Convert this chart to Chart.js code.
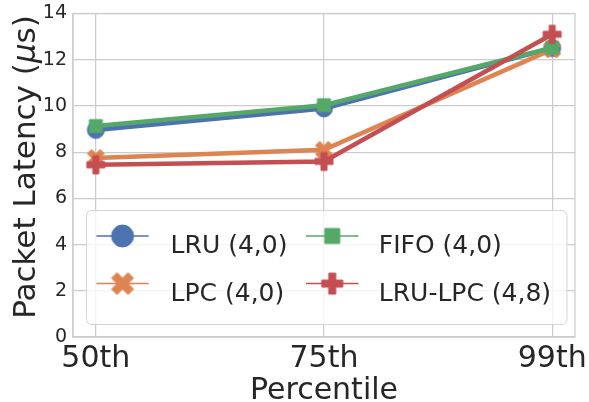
<!DOCTYPE html>
<html>
<head>
<meta charset="utf-8">
<script src="https://cdn.jsdelivr.net/npm/chart.js@4.4.1/dist/chart.umd.min.js"></script>
<style>
  html, body { margin: 0; padding: 0; background: #fff; }
  canvas { display: block; }
</style>
</head>
<body>
<canvas id="chart" width="589" height="402"></canvas>
<script>
// Packet latency (µs) per percentile for each replacement policy
const percentiles = ['50th', '75th', '99th'];
const lru    = [8.96, 9.89, 12.50];
const lpc    = [7.75, 8.10, 12.45];
const fifo   = [9.13, 10.03, 12.52];
const lruLpc = [7.45, 7.60, 13.10];
const yTicks = [0, 2, 4, 6, 8, 10, 12, 14];

const FONT = '"DejaVu Sans", "Liberation Sans", sans-serif';
const INK = '#262626';
const GRID = '#cccccc';

// Filled marker glyphs (circle, square, filled X, filled plus)
function marker(kind, size, color) {
  const n = Math.ceil(size + 4);
  const cv = document.createElement('canvas');
  cv.width = n; cv.height = n;
  const g = cv.getContext('2d');
  g.translate(n / 2, n / 2);
  g.fillStyle = color; g.strokeStyle = color; g.lineWidth = 1;
  g.beginPath();
  if (kind === 'circle') {
    g.arc(0, 0, size / 2, 0, Math.PI * 2);
  } else if (kind === 'square') {
    g.rect(-size / 2, -size / 2, size, size);
  } else {
    const pts = kind === 'plus'
      ? [[-1,-3],[-1,-1],[-3,-1],[-3,1],[-1,1],[-1,3],[1,3],[1,1],[3,1],[3,-1],[1,-1],[1,-3]].map(p => [p[0] / 6, p[1] / 6])
      : [[-1,-2],[0,-1],[1,-2],[2,-1],[1,0],[2,1],[1,2],[0,1],[-1,2],[-2,1],[-1,0],[-2,-1]].map(p => [p[0] / 4, p[1] / 4]);
    pts.forEach((p, i) => i ? g.lineTo(p[0] * size, p[1] * size) : g.moveTo(p[0] * size, p[1] * size));
    g.closePath();
  }
  g.fill(); g.stroke();
  return cv;
}

const series = [
  { label: 'LRU (4,0)',     values: lru,    color: '#4C72B0', kind: 'circle', size: 17, legendSize: 22 },
  { label: 'LPC (4,0)',     values: lpc,    color: '#DD8452', kind: 'x',      size: 17, legendSize: 22 },
  { label: 'FIFO (4,0)',    values: fifo,   color: '#55A868', kind: 'square', size: 13, legendSize: 15 },
  { label: 'LRU-LPC (4,8)', values: lruLpc, color: '#C44E52', kind: 'plus',   size: 18, legendSize: 21 },
];

// Frame around the plotting area
const framePlugin = {
  id: 'frame',
  beforeDatasetsDraw(chart) {
    const { ctx, chartArea: a } = chart;
    ctx.save();
    ctx.strokeStyle = GRID;
    ctx.lineWidth = 1.25;
    ctx.strokeRect(a.left, a.top, a.right - a.left, a.bottom - a.top);
    ctx.restore();
  }
};

// Axis titles (the y title carries an italic mu)
const titlePlugin = {
  id: 'axisTitles',
  afterDraw(chart) {
    const { ctx, chartArea: a } = chart;
    ctx.save();
    ctx.fillStyle = INK;
    ctx.textBaseline = 'alphabetic';
    // x title
    ctx.font = '30px ' + FONT;
    ctx.textAlign = 'center';
    ctx.fillText('Percentile', (a.left + a.right) / 2, 399);
    // y title, rotated
    const parts = [
      ['Packet Latency (', '31px ' + FONT],
      ['\u03BC', 'italic 31px ' + FONT],
      ['s)', '31px ' + FONT],
    ];
    let total = 0;
    const widths = parts.map(([t, f]) => { ctx.font = f; const w = ctx.measureText(t).width; total += w; return w; });
    ctx.translate(34.5, 167);
    ctx.rotate(-Math.PI / 2);
    ctx.textAlign = 'left';
    let x = -total / 2;
    parts.forEach(([t, f], i) => { ctx.font = f; ctx.fillText(t, x, 0); x += widths[i]; });
    ctx.restore();
  }
};

// Two-column legend box drawn over the plot
const legendPlugin = {
  id: 'boxLegend',
  afterDraw(chart) {
    const ctx = chart.ctx;
    ctx.save();
    const bx = 86.5, by = 210.5, bw = 480.5, bh = 114, r = 5;
    ctx.beginPath();
    ctx.moveTo(bx + r, by);
    ctx.arcTo(bx + bw, by, bx + bw, by + bh, r);
    ctx.arcTo(bx + bw, by + bh, bx, by + bh, r);
    ctx.arcTo(bx, by + bh, bx, by, r);
    ctx.arcTo(bx, by, bx + bw, by, r);
    ctx.closePath();
    ctx.fillStyle = 'rgba(255,255,255,0.8)';
    ctx.fill();
    ctx.strokeStyle = 'rgba(204,204,204,0.8)';
    ctx.lineWidth = 1;
    ctx.stroke();

    const cols = [{ h0: 96.4, h1: 148.7, tx: 170.6 }, { h0: 306, h1: 358.5, tx: 378.8 }];
    const rows = [{ my: 236, ty: 253 }, { my: 283.6, ty: 300.5 }];
    series.forEach((s, i) => {
      const c = cols[Math.floor(i / 2)], rw = rows[i % 2];
      ctx.strokeStyle = s.color;
      ctx.lineWidth = 1.5;
      ctx.beginPath();
      ctx.moveTo(c.h0, rw.my); ctx.lineTo(c.h1, rw.my);
      ctx.stroke();
      const m = marker(s.kind, s.legendSize, s.color);
      ctx.drawImage(m, (c.h0 + c.h1) / 2 - m.width / 2, rw.my - m.height / 2);
      ctx.fillStyle = INK;
      ctx.font = '25px ' + FONT;
      ctx.textAlign = 'left';
      ctx.textBaseline = 'alphabetic';
      ctx.fillText(s.label, c.tx, rw.ty);
    });
    ctx.restore();
  }
};

const drawOrder = { 'LRU (4,0)': 3, 'LPC (4,0)': 2, 'FIFO (4,0)': 1, 'LRU-LPC (4,8)': 0 };

new Chart(document.getElementById('chart'), {
  type: 'line',
  data: {
    datasets: series.map(s => ({
      label: s.label,
      data: s.values.map((v, i) => ({ x: i, y: v })),
      borderColor: s.color,
      backgroundColor: s.color,
      borderWidth: 4.5,
      pointStyle: marker(s.kind, s.size, s.color),
      pointRadius: 9,
      pointHoverRadius: 9,
      tension: 0,
      order: drawOrder[s.label],
      clip: false,
    }))
  },
  options: {
    responsive: false,
    animation: false,
    devicePixelRatio: 1,
    layout: { padding: { left: 0, right: 14, top: 11, bottom: 0 } },
    plugins: { legend: { display: false }, tooltip: { enabled: false } },
    scales: {
      x: {
        type: 'linear',
        min: -0.1,
        max: 2.1,
        afterBuildTicks: (scale) => { scale.ticks = percentiles.map((_, i) => ({ value: i })); },
        afterFit: (scale) => {
          scale.height = 65;
          scale.paddingLeft = 0; scale.paddingRight = 0;
          scale.paddingTop = 0; scale.paddingBottom = 0;
        },
        ticks: {
          callback: (v) => percentiles[v],
          font: { family: FONT, size: 30 },
          color: INK,
          padding: 4,
          maxRotation: 0,
          autoSkip: false,
        },
        grid: { color: GRID, lineWidth: 1.25, drawTicks: false },
        border: { color: GRID, width: 1.25 },
        title: { display: false },
      },
      y: {
        min: 0,
        max: 14,
        afterBuildTicks: (scale) => { scale.ticks = yTicks.map(v => ({ value: v })); },
        afterFit: (scale) => {
          scale.width = 73;
          scale.paddingTop = 0; scale.paddingBottom = 0;
          scale.paddingLeft = 0; scale.paddingRight = 0;
        },
        ticks: {
          font: { family: FONT, size: 19 },
          color: INK,
          padding: 6,
        },
        grid: { color: GRID, lineWidth: 1.25, drawTicks: false },
        border: { color: GRID, width: 1.25 },
        title: { display: false },
      }
    }
  },
  plugins: [framePlugin, titlePlugin, legendPlugin]
});
</script>
</body>
</html>
